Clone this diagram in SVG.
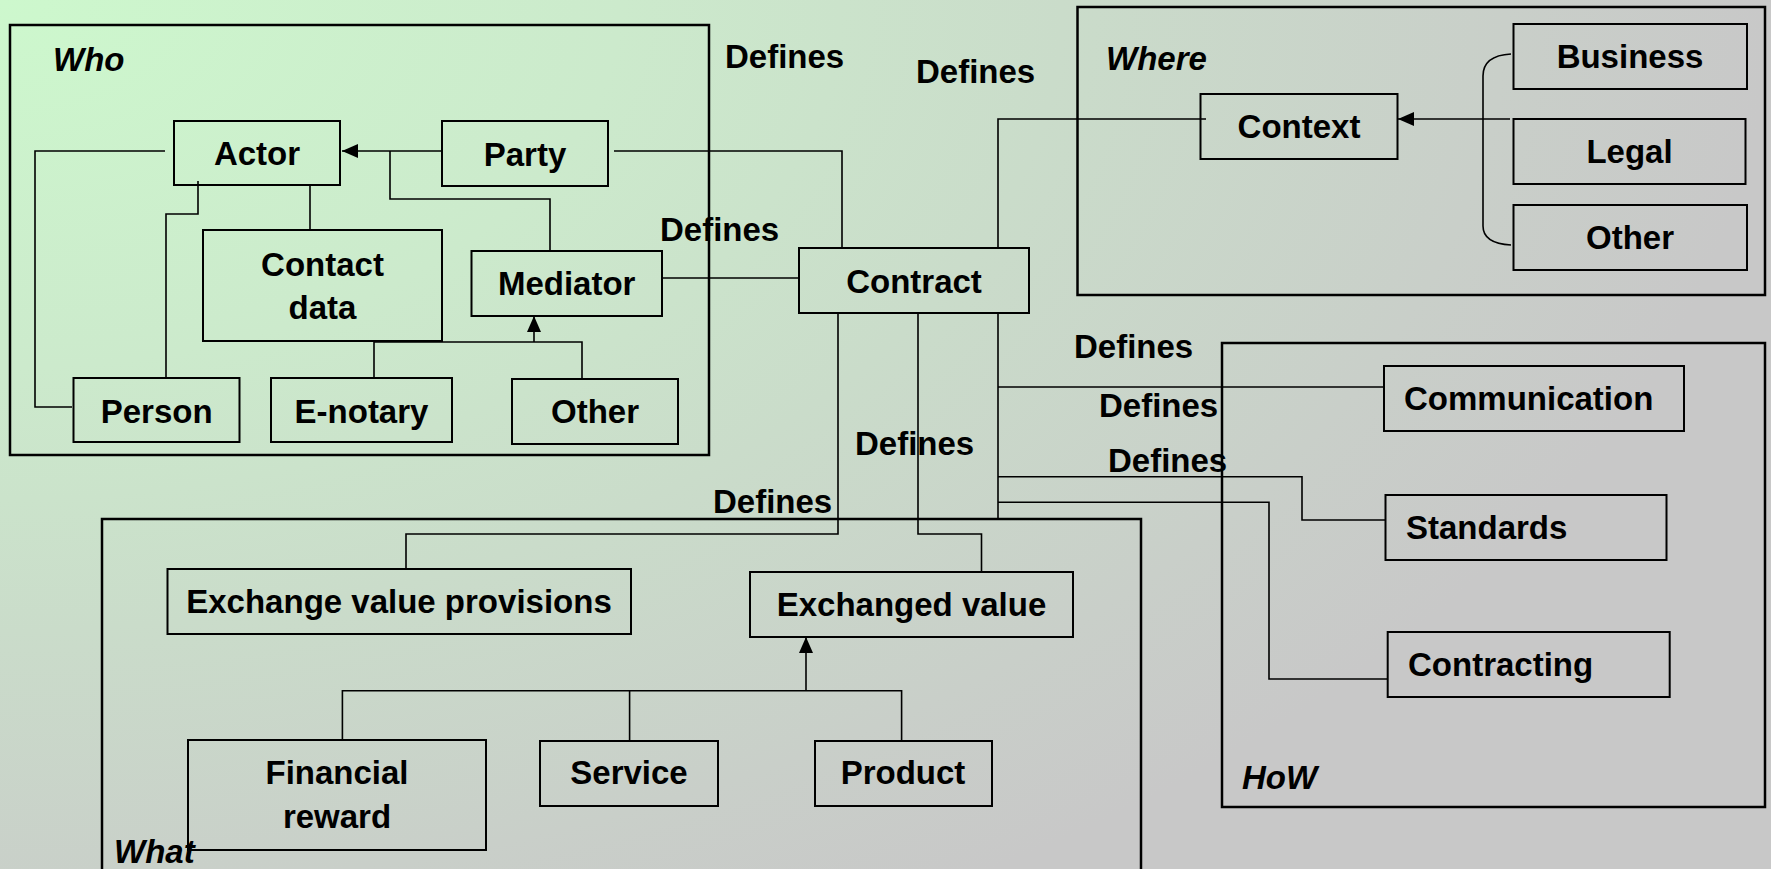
<svg xmlns="http://www.w3.org/2000/svg" width="1771" height="869" viewBox="0 0 1771 869">
<defs>
<radialGradient id="bg" gradientUnits="userSpaceOnUse" cx="0" cy="0" r="1771" gradientTransform="scale(1,0.593)">
<stop offset="0" stop-color="#CDF8CD"/>
<stop offset="0.35" stop-color="#CCEACC"/>
<stop offset="0.6" stop-color="#CADCCA"/>
<stop offset="0.85" stop-color="#C9CFC9"/>
<stop offset="1" stop-color="#C8C8C8"/>
</radialGradient>
<marker id="arr" viewBox="0 0 16 14" refX="16" refY="7" markerWidth="16" markerHeight="14" markerUnits="userSpaceOnUse" orient="auto">
<path d="M0,0 L16,7 L0,14 z" fill="#000"/>
</marker>
<style>
.grp{fill:none;stroke:#000;stroke-width:2.5}
.box{fill:none;stroke:#000;stroke-width:2}
.ln{fill:none;stroke:#000;stroke-width:1.6}
.t{font-family:"Liberation Sans",Arial,sans-serif;font-weight:bold;font-size:33px;fill:#000}
.c{text-anchor:middle}
.i{font-style:italic}
</style>
</defs>
<rect x="0" y="0" width="1771" height="869" fill="url(#bg)"/>

<g id="groups">
<g id="who"><rect class="grp" x="10" y="25" width="699" height="430"/><text class="t i" x="53" y="71">Who</text></g>
<g id="where"><rect class="grp" x="1077.5" y="7" width="687.5" height="288"/><text class="t i" x="1106" y="70">Where</text></g>
<g id="how"><rect class="grp" x="1222" y="343" width="543" height="464"/><text class="t i" x="1242" y="789">HoW</text></g>
<g id="what"><rect class="grp" x="102" y="519" width="1039" height="380"/><text class="t i" x="114" y="863">What</text></g>
</g>

<g id="connectors">
<line class="ln" x1="441" y1="151" x2="342" y2="151" marker-end="url(#arr)"/>
<polyline class="ln" points="550,250 550,199 390,199 390,151"/>
<line class="ln" x1="310" y1="185" x2="310" y2="230"/>
<polyline class="ln" points="198,181 198,214 166,214 166,377"/>
<polyline class="ln" points="165,151 35,151 35,407 72,407"/>
<polyline class="ln" points="374,377 374,342 582,342 582,378"/>
<line class="ln" x1="534" y1="342" x2="534" y2="316" marker-end="url(#arr)"/>
<polyline class="ln" points="614,151 842,151 842,248"/>
<line class="ln" x1="662" y1="278" x2="799" y2="278"/>
<polyline class="ln" points="998,248 998,119 1206,119"/>
<line class="ln" x1="1510" y1="119" x2="1398" y2="119" marker-end="url(#arr)"/>
<path class="ln" d="M1511,54 C1492,55 1483,62 1483,76 L1483,226 C1483,238 1492,244 1511,245"/>
<polyline class="ln" points="838,313 838,534 406,534 406,568"/>
<polyline class="ln" points="918,313 918,534 981.5,534 981.5,571"/>
<line class="ln" x1="998" y1="313" x2="998" y2="519"/>
<line class="ln" x1="998" y1="387" x2="1384" y2="387"/>
<polyline class="ln" points="998,476.7 1302,476.7 1302,520 1385,520"/>
<polyline class="ln" points="998,502.3 1269,502.3 1269,679 1387,679"/>
<polyline class="ln" points="342.4,740 342.4,690.7 901.6,690.7 901.6,740"/>
<line class="ln" x1="629.6" y1="690.7" x2="629.6" y2="740"/>
<line class="ln" x1="806" y1="690.7" x2="806" y2="637" marker-end="url(#arr)"/>
<text class="t" x="725" y="68">Defines</text>
<text class="t" x="916" y="83">Defines</text>
<text class="t" x="660" y="241">Defines</text>
<text class="t" x="1074" y="358">Defines</text>
<text class="t" x="1099" y="417">Defines</text>
<text class="t" x="1108" y="472">Defines</text>
<text class="t" x="855" y="455">Defines</text>
<text class="t" x="713" y="513">Defines</text>
</g>

<g id="actor"><rect class="box" x="174" y="121" width="166" height="64"/><text class="t c" x="257" y="165">Actor</text></g>
<g id="party"><rect class="box" x="442" y="121" width="166" height="65"/><text class="t c" x="525" y="166">Party</text></g>
<g id="contact-data"><rect class="box" x="203" y="230" width="239" height="111"/><text class="t c" x="322.5" y="276">Contact</text><text class="t c" x="322.5" y="319">data</text></g>
<g id="mediator"><rect class="box" x="471.5" y="251" width="190.5" height="65"/><text class="t c" x="566.7" y="295">Mediator</text></g>
<g id="person"><rect class="box" x="73.5" y="378" width="166" height="64"/><text class="t c" x="156.7" y="423">Person</text></g>
<g id="e-notary"><rect class="box" x="271" y="378" width="181" height="64"/><text class="t c" x="361.5" y="423">E-notary</text></g>
<g id="other-who"><rect class="box" x="512" y="379" width="166" height="65"/><text class="t c" x="595" y="423">Other</text></g>
<g id="contract"><rect class="box" x="799" y="248" width="230" height="65"/><text class="t c" x="914" y="293">Contract</text></g>
<g id="context"><rect class="box" x="1200.5" y="94" width="197" height="65"/><text class="t c" x="1299" y="138">Context</text></g>
<g id="business"><rect class="box" x="1513.5" y="24" width="233.5" height="65"/><text class="t c" x="1630" y="68">Business</text></g>
<g id="legal"><rect class="box" x="1513.5" y="119" width="232" height="65"/><text class="t c" x="1629.5" y="163">Legal</text></g>
<g id="other-where"><rect class="box" x="1513.5" y="205" width="233.5" height="65"/><text class="t c" x="1630" y="249">Other</text></g>
<g id="communication"><rect class="box" x="1384" y="366" width="300" height="65"/><text class="t" x="1404" y="410">Communication</text></g>
<g id="standards"><rect class="box" x="1385.5" y="495" width="281" height="65"/><text class="t" x="1406" y="539">Standards</text></g>
<g id="contracting"><rect class="box" x="1387.7" y="632" width="282" height="65"/><text class="t" x="1408" y="676">Contracting</text></g>
<g id="exchange-value-provisions"><rect class="box" x="167.5" y="569" width="463.5" height="65"/><text class="t c" x="399" y="613">Exchange value provisions</text></g>
<g id="exchanged-value"><rect class="box" x="750" y="572" width="323" height="65"/><text class="t c" x="911.5" y="616">Exchanged value</text></g>
<g id="financial-reward"><rect class="box" x="188" y="740" width="298" height="110"/><text class="t c" x="337" y="784">Financial</text><text class="t c" x="337" y="828">reward</text></g>
<g id="service"><rect class="box" x="540" y="741" width="178" height="65"/><text class="t c" x="629" y="784">Service</text></g>
<g id="product"><rect class="box" x="815" y="741" width="177" height="65"/><text class="t c" x="903" y="784">Product</text></g>
</svg>
